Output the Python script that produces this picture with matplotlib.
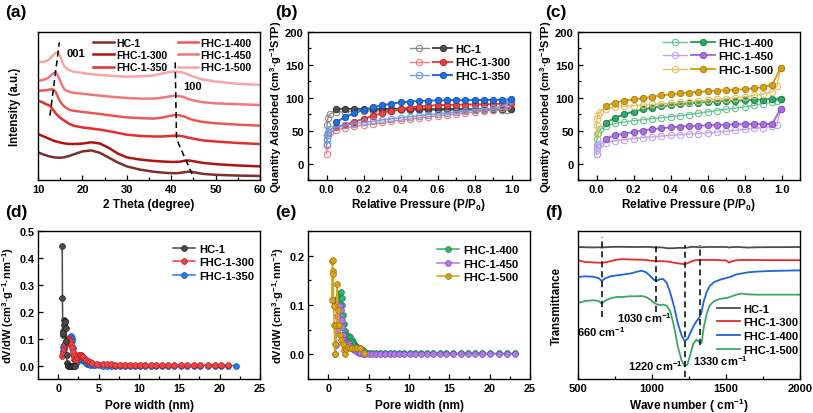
import numpy as np
import matplotlib
matplotlib.use('Agg')
import matplotlib.pyplot as plt
from matplotlib.lines import Line2D
from matplotlib.legend_handler import HandlerTuple
from matplotlib.ticker import MultipleLocator, NullLocator, FormatStrFormatter

plt.rcParams['font.family'] = ['Liberation Sans', 'DejaVu Sans']
plt.rcParams['font.weight'] = 'bold'
plt.rcParams['axes.labelweight'] = 'bold'
plt.rcParams['mathtext.fontset'] = 'custom'
plt.rcParams['mathtext.rm'] = 'Liberation Sans:bold'
plt.rcParams['mathtext.it'] = 'Liberation Sans:bold'
plt.rcParams['mathtext.bf'] = 'Liberation Sans:bold'
plt.rcParams['mathtext.default'] = 'bf'

# ---------------- (a) XRD ----------------
xrd_labels = ['HC-1', 'FHC-1-300', 'FHC-1-350', 'FHC-1-400', 'FHC-1-450', 'FHC-1-500']
xrd_2theta = [10, 11, 12, 12.5, 13, 13.5, 14, 14.5, 15, 15.5, 16, 17, 18, 20, 22, 24, 26, 28, 30,
              33, 36, 38, 40, 41, 42, 43, 44, 45, 47, 50, 55, 60]
xrd_hc1 = [18.7, 17.5, 16.5, 16, 15.7, 15.4, 15.2, 15.1, 15.1, 15.2, 15.4, 16.2, 17.3, 19.3, 20, 18.3,
           15, 11.8, 9.2, 7, 5.6, 5, 4.6, 4.6, 4.8, 5.3, 5.6, 5.3, 4.2, 3.5, 3, 2.7]
xrd_300 = [31, 29.8, 28.5, 27.8, 27.2, 26.6, 26.1, 25.7, 25.3, 25, 24.7, 24.4, 24.3, 24.6, 25.5, 24.6,
           21.6, 17.8, 15.3, 13.8, 12.9, 12.5, 12.2, 12.2, 12.4, 13, 13.2, 12.7, 11.6, 10.7, 9.8, 9.2]
xrd_350 = [53.6, 52.5, 51, 50.5, 49, 47, 45, 43.5, 42, 41, 40, 38, 36.7, 35.5, 34.8, 34, 33, 31.8, 30.6,
           29.8, 29.4, 29.4, 29.8, 30, 29.8, 29.3, 28.5, 27.9, 26.8, 26, 25, 24.3]
xrd_400 = [60.4, 60.4, 60.8, 61, 61.3, 61, 59.5, 56, 53, 51, 49.5, 47.5, 46.8, 46, 45.3, 44.6, 43.8,
           43, 42.3, 41.8, 41.5, 42.2, 43.5, 44, 43.6, 42.8, 41.5, 40.5, 39.3, 38.3, 37.4, 36.7]
xrd_450 = [67, 67.5, 68.5, 69.5, 71, 72.3, 72.7, 70.5, 67, 63.5, 61, 59.6, 58.9, 58.3, 57.6, 57, 56.4,
           55.9, 55.4, 55, 55, 55.6, 56.7, 57, 56.6, 55.8, 54.6, 53.8, 52.6, 51.8, 51.2, 50.7]
xrd_500 = [79.5, 79.8, 80.5, 81.5, 83, 84.5, 86, 86.3, 83.5, 79.5, 76.5, 74.2, 73.2, 72.3, 71.5, 71,
           70.5, 70.1, 69.8, 70, 70.6, 72, 73, 73.4, 73, 72.3, 71, 69.8, 68, 66.5, 65, 64.2]
xrd_series = [xrd_hc1, xrd_300, xrd_350, xrd_400, xrd_450, xrd_500]
xrd_colors = ['#7d2e2e', '#b01212', '#e52d2d', '#ee5555', '#f27676', '#f6a6a6']
guide001_x = [12.7, 14.8]
guide001_y = [43.5, 93]
guide100_x = [40.9, 41.2, 44.7]
guide100_y = [79.5, 27.7, 4]

# ---------------- (b)/(c) isotherms ----------------
P_ads = [0.0003, 0.001, 0.003, 0.008, 0.02, 0.05, 0.1, 0.15, 0.2, 0.25, 0.3, 0.35, 0.4, 0.45, 0.5,
         0.55, 0.6, 0.65, 0.7, 0.75, 0.8, 0.85, 0.9, 0.95, 0.975, 0.995]
P_des = [0.995, 0.95, 0.9, 0.85, 0.8, 0.75, 0.7, 0.65, 0.6, 0.55, 0.5, 0.45, 0.4, 0.35, 0.3, 0.25,
         0.2, 0.15, 0.1, 0.05]
ads_hc1 = [28, 43, 58, 70, 76, 78, 78.8, 79.3, 79.7, 80, 80.3, 80.5, 80.7, 80.9, 81, 81.2, 81.3, 81.4,
           81.5, 81.6, 81.7, 81.8, 81.9, 82, 82.1, 82.3]
des_hc1 = [82.3, 82.5, 82.5, 82.6, 82.6, 82.7, 82.7, 82.8, 82.8, 82.9, 82.9, 83, 83, 83, 83.1, 83.1,
           83.1, 83.1, 83.2, 83.0]
ads_300 = [15, 28, 38, 44, 48, 51, 54, 56.5, 58.5, 60.5, 62.5, 64.3, 66, 67.7, 69.3, 70.9, 72.4,
           73.9, 75.4, 76.9, 78.4, 80, 82, 84.5, 87, 92.5]
des_300 = [92.5, 91, 90.5, 90.2, 90, 89.7, 89.5, 89.2, 88.7, 87.8, 86.6, 85, 82.8, 80, 76.5, 72.5,
           68, 63.5, 59, 55]
ads_350 = [30, 38, 44, 48, 52, 55, 58, 60.5, 62.5, 64.5, 66.3, 68, 69.6, 71.2, 72.7, 74.2, 75.6, 77,
           78.4, 79.8, 81.2, 82.7, 84.5, 87, 90, 97]
des_350 = [97.5, 97, 96.8, 96.6, 96.5, 96.4, 96.3, 96.2, 96, 95.7, 95.2, 94.3, 93, 91, 88.5, 85.5,
           81.5, 76.5, 70.5, 63]
ads_400 = [15, 28, 38, 46, 52, 57, 61, 63.2, 65, 66.7, 68.4, 69.8, 71.1, 72.8, 74.5, 76.5, 78.6,
           80.6, 82.6, 84.3, 86, 88.5, 91, 93.8, 95.8, 98.5]
des_400 = [98.5, 97.8, 97.3, 96.8, 96.2, 95.6, 95, 94.3, 93.6, 92.6, 91.4, 90.2, 88.8, 87, 85, 82.2,
           79, 75, 69.5, 62]
ads_450 = [14, 20, 25, 28, 30, 32, 34.5, 36.3, 38, 39.4, 40.6, 41.8, 43, 43.8, 44.6, 45.6, 46.6,
           47.8, 49, 50.5, 52, 53.4, 54.8, 56.5, 58, 83.5]
des_450 = [83.5, 60, 60, 60, 60, 59.5, 59, 58.5, 58, 57.5, 57, 56, 55, 53.7, 52, 50.2, 48, 45.6, 43, 38]
ads_500 = [45, 58, 68, 74, 79, 83, 85.5, 87, 88, 88.8, 89.8, 90.8, 92, 93, 94, 95.2, 96.3, 97.5,
           98.7, 100, 101.5, 103.5, 105.5, 109, 118, 145]
des_500 = [145, 120, 116, 114.5, 113, 112.3, 111.5, 110.7, 110, 109, 108, 106.7, 105.3, 103.5, 101.5,
           99.5, 97.5, 95.5, 92.5, 88]

# colours: (filled, open/light, edge)
iso_b = [('HC-1', ads_hc1, des_hc1, '#4d4d4d', '#8a8a8a', '#2a2a2a'),
         ('FHC-1-300', ads_300, des_300, '#ec4040', '#f27a7a', '#b52020'),
         ('FHC-1-350', ads_350, des_350, '#1f6fe0', '#6d9de8', '#134ea8')]
iso_c = [('FHC-1-400', ads_400, des_400, '#2ea866', '#66c48f', '#1c7a48'),
         ('FHC-1-450', ads_450, des_450, '#a66fe2', '#c4a2ee', '#7a48b4'),
         ('FHC-1-500', ads_500, des_500, '#d6a118', '#e6c062', '#a67a0c')]

# ---------------- (d)/(e) pore size distribution ----------------
psd_hc1_x = [0.50, 0.53, 0.57, 0.61, 0.65, 0.70, 0.75, 0.80, 0.86, 0.92, 0.98, 1.04, 1.10, 1.17,
             1.25, 1.35, 1.45, 1.55, 1.65, 1.75, 1.85, 1.95, 2.05]
psd_hc1_y = [0.445, 0.25, 0.13, 0.115, 0.12, 0.15, 0.17, 0.165, 0.16, 0.14, 0.09, 0.04, 0.01, 0.0,
             0.002, 0.0, 0.0, 0.0, 0.0, 0.0, 0.0, 0.0, 0.0]
psd_300_x = [0.45, 0.6, 0.7, 0.8, 0.9, 1.0, 1.1, 1.2, 1.3, 1.4, 1.5, 1.6, 1.7, 1.8, 1.9, 2.0, 2.1,
             2.2, 2.35, 2.5, 2.65, 2.8, 2.95, 3.1, 3.3, 3.5, 3.7, 3.9, 4.2, 4.85, 5.5, 6.0, 6.6,
             7.1, 7.7, 8.3, 8.9, 9.5, 10.1, 10.7, 11.5, 12.1, 12.9, 13.6, 14.4, 15.2, 16.0, 16.8,
             17.6, 18.5, 19.4, 20.2, 21.0]
psd_300_y = [0.037, 0.045, 0.06, 0.075, 0.085, 0.092, 0.096, 0.097, 0.097, 0.095, 0.09, 0.08,
             0.065, 0.05, 0.035, 0.025, 0.02, 0.022, 0.03, 0.038, 0.04, 0.038, 0.034, 0.03, 0.025,
             0.02, 0.016, 0.013, 0.01, 0.007, 0.005, 0.004, 0.004, 0.003, 0.003, 0.003, 0.002,
             0.002, 0.002, 0.002, 0.002, 0.002, 0.002, 0.002, 0.002, 0.002, 0.002, 0.002, 0.002,
             0.002, 0.002, 0.002, 0.002]
psd_350_x = [0.55, 0.65, 0.75, 0.85, 0.95, 1.05, 1.15, 1.25, 1.35, 1.45, 1.55, 1.65, 1.75, 1.85,
             1.95, 2.05, 2.2, 2.35, 2.5, 2.65, 2.8, 3.0, 3.2, 3.4, 3.6, 3.8, 4.0, 4.3, 4.6, 5.0,
             5.5, 6.0, 6.6, 7.1, 7.7, 8.3, 8.9, 9.5, 10.1, 10.7, 11.5, 12.1, 12.9, 13.6, 14.4,
             15.2, 16.0, 16.8, 17.6, 18.5, 19.4, 20.2, 21.0, 22.0]
psd_350_y = [0.055, 0.07, 0.075, 0.078, 0.08, 0.085, 0.09, 0.097, 0.103, 0.107, 0.108, 0.104, 0.09,
             0.065, 0.04, 0.02, 0.012, 0.015, 0.025, 0.03, 0.028, 0.022, 0.016, 0.011, 0.007,
             0.005, 0.003, 0.002, 0.001, 0.001, 0.0, 0.0, 0.0, 0.0, 0.0, 0.0, 0.0, 0.0, 0.0, 0.0,
             0.0, 0.0, 0.0, 0.0, 0.0, 0.0, 0.0, 0.0, 0.0, 0.0, 0.0, 0.0, 0.0, 0.0]

psd_400_x = [0.6, 0.85, 0.95, 1.05, 1.15, 1.25, 1.35, 1.45, 1.55, 1.65, 1.75, 1.85, 1.95, 2.05,
             2.15, 2.3, 2.45, 2.6, 2.75, 2.9, 3.05, 3.2, 3.4, 3.6, 3.8, 4.0, 4.3, 4.6, 5.0, 5.4,
             5.9, 6.4, 7.0, 7.6, 8.2, 8.8, 9.4, 10.1, 10.8, 11.5, 12.2, 13.0, 13.8, 14.6, 15.5,
             16.4, 17.3, 18.2, 19.1, 20.1, 21.1, 22.1, 23.1]
psd_400_y = [0.11, 0.098, 0.108, 0.11, 0.112, 0.115, 0.12, 0.124, 0.126, 0.115, 0.1, 0.08, 0.062,
             0.048, 0.04, 0.035, 0.036, 0.037, 0.035, 0.03, 0.025, 0.02, 0.016, 0.014, 0.013,
             0.012, 0.008, 0.005, 0.003, 0.003, 0.002, 0.002, 0.002, 0.002, 0.002, 0.002, 0.002,
             0.002, 0.002, 0.002, 0.002, 0.002, 0.002, 0.002, 0.002, 0.002, 0.002, 0.002, 0.002,
             0.002, 0.002, 0.002, 0.002]
psd_450_x = [0.9, 0.97, 1.04, 1.11, 1.18, 1.26, 1.34, 1.42, 1.5, 1.58, 1.66, 1.74, 1.84, 1.95,
             2.06, 2.18, 2.32, 2.46, 2.6, 2.75, 2.9, 3.05, 3.2, 3.4, 3.6, 3.8, 4.0, 4.3, 4.6, 5.0,
             5.4, 5.9, 6.4, 7.0, 7.6, 8.2, 8.8, 9.4, 10.1, 10.8, 11.5, 12.2, 13.0, 13.8, 14.6,
             15.5, 16.4, 17.3, 18.2, 19.1, 20.1, 21.1, 22.1, 23.1]
psd_450_y = [0.0, 0.018, 0.05, 0.078, 0.092, 0.097, 0.1, 0.1, 0.098, 0.09, 0.07, 0.055, 0.04, 0.03,
             0.026, 0.025, 0.023, 0.021, 0.02, 0.017, 0.013, 0.011, 0.009, 0.007, 0.005, 0.003,
             0.002, 0.001, 0.0, 0.0, 0.0, 0.0, 0.0, 0.0, 0.0, 0.0, 0.0, 0.0, 0.0, 0.0, 0.0, 0.0,
             0.0, 0.0, 0.0, 0.0, 0.0, 0.0, 0.0, 0.0, 0.0, 0.0, 0.0, 0.0]
psd_500_x = [0.45, 0.5, 0.55, 0.6, 0.63, 0.67, 0.75, 0.83, 0.9, 1.0, 1.1, 1.2, 1.3, 1.45, 1.6,
             1.8, 1.95, 2.07, 2.2, 2.4, 2.7, 3.0, 3.3, 3.6, 4.0, 4.4]
psd_500_y = [0.11, 0.19, 0.192, 0.168, 0.162, 0.097, 0.06, 0.0, 0.02, 0.06, 0.143, 0.09, 0.06, 0.04,
             0.03, 0.02, 0.008, 0.0, 0.01, 0.014, 0.013, 0.012, 0.012, 0.012, 0.013, 0.003]

# ---------------- (f) FTIR ----------------
wn = [500, 550, 600, 640, 660, 680, 720, 760, 800, 850, 900, 930, 960, 990, 1010, 1030, 1050,
      1075, 1100, 1125, 1150, 1175, 1200, 1220, 1240, 1260, 1280, 1300, 1320, 1335, 1350, 1370,
      1390, 1420, 1460, 1500, 1520, 1540, 1570, 1600, 1650, 1700, 1800, 1900, 2000]
ir_hc1 = [89.2, 89.0, 88.9, 89.0, 88.8, 89.0, 89.2, 89.3, 89.3, 89.2, 89.2, 89.2, 89.3, 89.2, 89.0,
          88.8, 89.0, 88.8, 88.4, 88.3, 88.4, 88.6, 88.6, 88.5, 88.8, 89.2, 89.3, 89.2, 89.0, 89.0,
          89.1, 89.2, 89.2, 89.2, 89.2, 89.2, 88.9, 89.1, 89.2, 89.1, 88.8, 89.0, 89.1, 89.1, 89.2]
ir_300 = [80.2, 79.0, 78.8, 78.6, 78.5, 78.8, 79.6, 80.6, 81.0, 80.8, 80.6, 80.6, 80.4, 80.0, 79.8,
          79.6, 79.6, 79.6, 79.4, 79.0, 78.6, 78.2, 77.8, 77.6, 78.2, 79.2, 80.0, 80.3, 80.4, 80.5,
          80.5, 80.5, 80.4, 80.4, 80.3, 80.1, 78.6, 79.5, 80.2, 80.4, 80.4, 80.4, 80.3, 80.3, 80.3]
ir_400 = [68.9, 69.4, 69.1, 68.2, 66.2, 67.8, 69.4, 70.0, 70.5, 71.2, 72.5, 73.2, 72.1, 69.4, 67.3,
          66.2, 67.3, 67.6, 64.9, 57.7, 48.6, 37.4, 29.5, 25.7, 27.0, 31.1, 35.6, 39.0, 41.4, 45.3,
          52.7, 58.8, 62.8, 65.5, 67.1, 68.2, 68.7, 69.4, 70.7, 71.2, 72.1, 72.5, 73.0, 73.2, 73.4]
ir_500 = [51.4, 52.7, 53.2, 52.7, 50.9, 52.7, 54.5, 55.4, 55.4, 55.9, 55.9, 56.1, 55.4, 53.6, 51.8,
          50.5, 50.0, 50.2, 49.5, 45.3, 35.1, 21.6, 12.6, 8.6, 9.9, 17.1, 23.9, 26.6, 25.0, 24.3,
          35.1, 44.1, 49.8, 52.7, 54.1, 54.7, 55.2, 55.9, 57.0, 57.7, 57.2, 57.0, 57.0, 57.0, 57.0]
ir_labels = ['HC-1', 'FHC-1-300', 'FHC-1-400', 'FHC-1-500']
ir_colors = ['#4d4d4d', '#ea2a2a', '#1f63dd', '#3aa66a']
ir_guides_x = [660, 1025, 1222, 1325]
ir_guides_lo = [41.9, 45.0, 1.4, 22.7]
ir_guides_hi = [95.9, 90.8, 90.3, 90.3]
ir_notes = ['660 cm$^{-1}$', '1030 cm$^{-1}$', '1220 cm$^{-1}$', '1330 cm$^{-1}$']
ir_notes_x = [655, 946, 1020, 1459]
ir_notes_y = [32.6, 41.9, 9.7, 13.0]

# ================= drawing =================
W, H = 813, 414
fig = plt.figure(figsize=(W / 100, H / 100), dpi=100)


def add_ax(l, t, r, b):
    return fig.add_axes([l / W, 1 - b / H, (r - l) / W, (b - t) / H])


def style(ax, lsize=8):
    for s in ax.spines.values():
        s.set_linewidth(1.0)
    ax.tick_params(which='both', direction='in', top=False, right=False, labelsize=lsize, width=0.9, pad=3)
    ax.tick_params(which='major', length=3.5)
    ax.tick_params(which='minor', length=2)


AW = 222.0
AH = 148.0


def labels(ax, xl, yl, ylx_px, xl_center_px, ylsize=8.3):
    ax.set_xlabel(xl, fontsize=8.5)
    ax.xaxis.set_label_coords(0.5, -xl_center_px / AH)
    ax.xaxis.label.set_va('center')
    ax.set_ylabel(yl, fontsize=ylsize)
    ax.yaxis.set_label_coords(ylx_px / AW, 0.5)


axa = add_ax(38, 33, 260, 181)
axb = add_ax(308, 33, 530, 181)
axc = add_ax(578, 33, 800, 181)
axd = add_ax(38, 232, 260, 380)
axe = add_ax(308, 232, 530, 380)
axf = add_ax(578, 232, 800, 380)

# (a)
style(axa)
for ys, c, lab in zip(xrd_series, xrd_colors, xrd_labels):
    axa.plot(xrd_2theta, ys, color=c, lw=1.8, label=lab)
axa.plot(guide001_x, guide001_y, ls=(0, (4, 2.5)), color='black', lw=1.1)
axa.plot(guide100_x, guide100_y, ls=(0, (4, 2.5)), color='black', lw=1.1)
axa.text(18.6, 85.8, '001', fontsize=8, ha='center', va='center')
axa.text(44.7, 63.2, '100', fontsize=8, ha='center', va='center')
axa.set_xlim(10, 60)
axa.set_ylim(0, 100)
axa.xaxis.set_major_locator(MultipleLocator(10))
axa.xaxis.set_minor_locator(MultipleLocator(5))
axa.yaxis.set_major_locator(NullLocator())
axa.yaxis.set_minor_locator(NullLocator())
labels(axa, '2 Theta (degree)', 'Intensity (a.u.)', -17, 24)
axa.legend(ncol=2, loc='upper left', bbox_to_anchor=(0.248, 0.962), frameon=False, fontsize=7.5,
           handlelength=2.0, handletextpad=0.2, columnspacing=1.0, labelspacing=0.22,
           borderpad=0, borderaxespad=0)


# (b),(c)
def iso_panel(ax, series, leg_x, leg_y, hl):
    style(ax)
    handles, labs = [], []
    for lab, ads, des, cf, co, ce in series:
        l1, = ax.plot(P_ads, ads, color=co, lw=1.0, marker='o', mfc='none', mec=co, ms=4.6, mew=0.8)
        l2, = ax.plot(P_des, des, color=cf, lw=1.4, marker='o', mfc=cf, mec=ce, ms=4.6, mew=0.6)
        handles.append((l1, l2))
        labs.append(lab)
    ax.set_xlim(-0.1, 1.1)
    ax.set_ylim(-25, 200)
    ax.xaxis.set_major_locator(MultipleLocator(0.2))
    ax.xaxis.set_minor_locator(MultipleLocator(0.1))
    ax.yaxis.set_major_locator(MultipleLocator(50))
    ax.yaxis.set_minor_locator(MultipleLocator(25))
    ax.xaxis.set_major_formatter(FormatStrFormatter('%.1f'))
    labels(ax, 'Relative Pressure (P/P$_0$)', 'Quantity Adsorbed (cm$^3$·g$^{-1}$STP)', -24, 24,
           ylsize=7.9)
    ax.legend(handles, labs, handler_map={tuple: HandlerTuple(ndivide=None, pad=0.4)},
              loc='upper left', bbox_to_anchor=(leg_x, leg_y), frameon=False, fontsize=8,
              handlelength=hl, handletextpad=0.3, labelspacing=0.3, borderpad=0, borderaxespad=0)


iso_panel(axb, iso_b, 0.459, 0.918, 3.8)
iso_panel(axc, iso_c, 0.383, 0.96, 4.7)


# (d),(e)
def psd_panel(ax, series, order, ylim, minor, leg_x, leg_y):
    style(ax, lsize=7.8)
    ax.tick_params(axis='y', pad=2.5)
    hs = {}
    for i in order:
        lab, xs, ys, c, ce = series[i]
        h, = ax.plot(xs, ys, color=c, lw=1.1, marker='o', mfc=c, mec=ce, ms=4.2, mew=0.5, label=lab)
        hs[i] = h
    ax.set_xlim(-2.5, 25)
    ax.set_ylim(*ylim)
    ax.xaxis.set_major_locator(MultipleLocator(5))
    ax.xaxis.set_minor_locator(MultipleLocator(2.5))
    ax.yaxis.set_major_locator(MultipleLocator(0.1))
    if minor:
        ax.yaxis.set_minor_locator(MultipleLocator(0.05))
    else:
        ax.yaxis.set_minor_locator(NullLocator())
    ax.yaxis.set_major_formatter(FormatStrFormatter('%.1f'))
    labels(ax, 'Pore width (nm)', 'dV/dW (cm$^3$·g$^{-1}$·nm$^{-1}$)', -21.5, 26.5, ylsize=8)
    ax.legend([hs[i] for i in range(len(series))], [s[0] for s in series], loc='upper left',
              bbox_to_anchor=(leg_x, leg_y), frameon=False, fontsize=8, handlelength=2.0,
              handletextpad=0.4, labelspacing=0.3, borderpad=0, borderaxespad=0)


psd_d = [('HC-1', psd_hc1_x, psd_hc1_y, '#4a4a4a', '#222222'),
         ('FHC-1-300', psd_300_x, psd_300_y, '#ef4444', '#b82222'),
         ('FHC-1-350', psd_350_x, psd_350_y, '#2a7ae2', '#1550a8')]
psd_e = [('FHC-1-400', psd_400_x, psd_400_y, '#2eb36a', '#1c7a48'),
         ('FHC-1-450', psd_450_x, psd_450_y, '#b07ce8', '#7d50b8'),
         ('FHC-1-500', psd_500_x, psd_500_y, '#d8a21a', '#a07610')]
psd_panel(axd, psd_d, [2, 1, 0], (-0.05, 0.5), False, 0.608, 0.913)
psd_panel(axe, psd_e, [0, 1, 2], (-0.05, 0.25), True, 0.581, 0.903)

# (f)
style(axf)
for ys, c, lab in zip([ir_hc1, ir_300, ir_400, ir_500], ir_colors, ir_labels):
    axf.plot(wn, ys, color=c, lw=1.3, label=lab)
for gx, lo, hi in zip(ir_guides_x, ir_guides_lo, ir_guides_hi):
    axf.plot([gx, gx], [lo, hi], ls=(0, (4, 2.5)), color='black', lw=1.1)
for t, x, y in zip(ir_notes, ir_notes_x, ir_notes_y):
    axf.text(x, y, t, fontsize=8, ha='center', va='center')
axf.set_xlim(500, 2000)
axf.set_ylim(0, 100)
axf.xaxis.set_major_locator(MultipleLocator(500))
axf.xaxis.set_minor_locator(MultipleLocator(250))
axf.yaxis.set_major_locator(NullLocator())
axf.yaxis.set_minor_locator(NullLocator())
labels(axf, 'Wave number ( cm$^{-1}$)', 'Transmittance', -15, 25.5)
axf.legend(loc='upper left', bbox_to_anchor=(0.626, 0.51), frameon=False, fontsize=8,
           handlelength=2.1, handletextpad=0.3, labelspacing=0.33, borderpad=0, borderaxespad=0)

# panel letters
for lab, x, y in [('(a)', 5, 13), ('(b)', 275, 13), ('(c)', 545, 13),
                  ('(d)', 5, 213), ('(e)', 275, 213), ('(f)', 545, 213)]:
    fig.text(x / W, 1 - y / H, lab, fontsize=12.5, fontweight='bold', ha='left', va='center')

fig.savefig('out.png', dpi=100)
